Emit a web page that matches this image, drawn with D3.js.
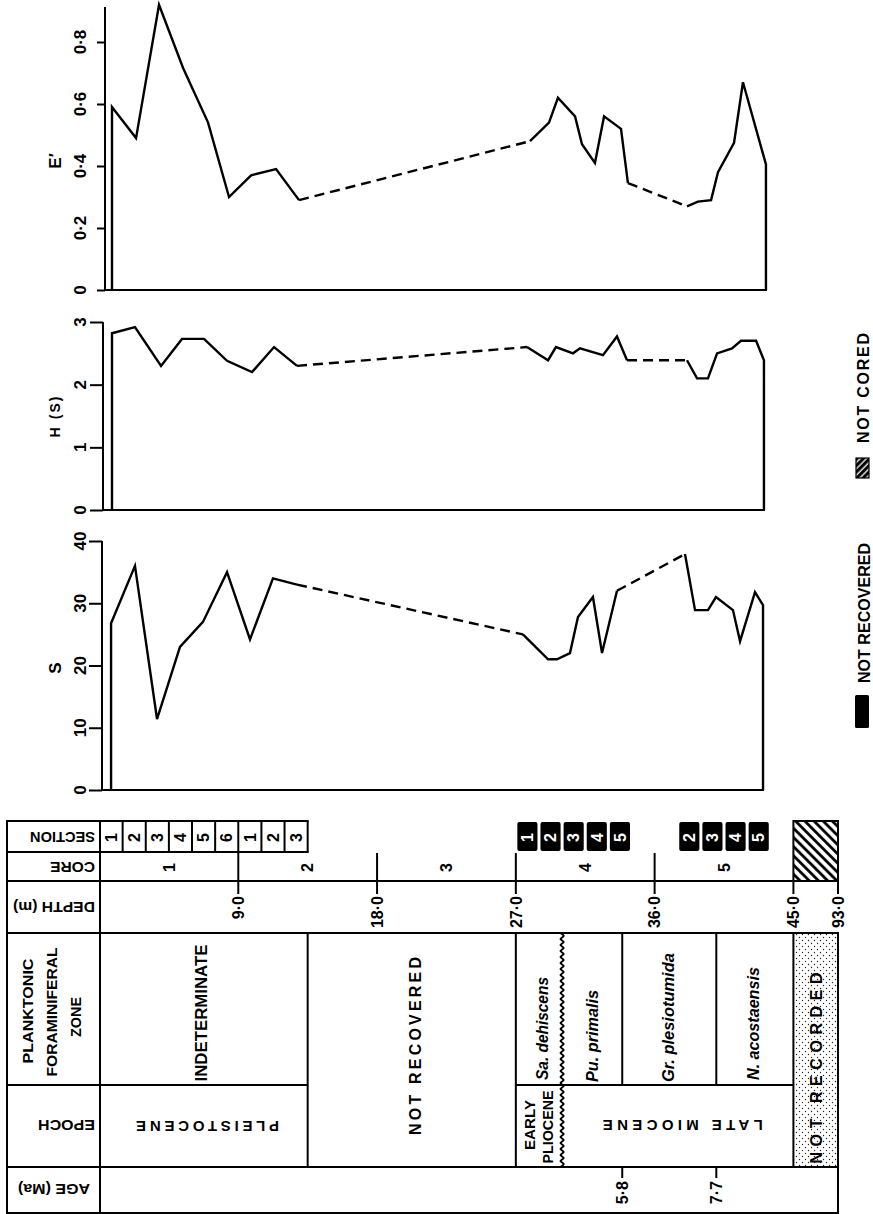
<!DOCTYPE html>
<html><head><meta charset="utf-8">
<script src="https://cdn.jsdelivr.net/npm/d3@7/dist/d3.min.js"></script>
<style>html,body{margin:0;padding:0;background:#fff}svg{display:block}</style>
</head><body>
<svg id="chart" width="873" height="1214"></svg>
<script>
// ================= DATA =================
const eDepth = [0.81,2.37,3.86,5.42,7.04,8.40,9.83,11.45,12.94,27.92,29.15,29.73,30.84,31.29,32.13,32.72,33.82,34.27,38.10,38.81,39.66,40.11,41.15,41.73,43.22];
const eValue = [0.59,0.49,0.92,0.716,0.54,0.30,0.37,0.39,0.29,0.48,0.54,0.62,0.56,0.47,0.41,0.56,0.52,0.345,0.27,0.285,0.29,0.38,0.475,0.67,0.405];
const hDepth = [0.81,2.30,3.99,5.35,6.78,8.27,9.89,11.32,12.81,27.72,29.09,29.60,30.71,31.16,32.65,33.56,34.21,38.10,38.75,39.46,40.05,41.02,41.60,42.58,43.09];
const hValue = [2.82,2.92,2.30,2.73,2.73,2.38,2.20,2.60,2.30,2.60,2.39,2.60,2.50,2.58,2.47,2.77,2.39,2.39,2.10,2.10,2.50,2.58,2.70,2.70,2.39];
const sDepth = [0.75,2.30,3.73,5.22,6.71,8.27,9.76,11.25,12.81,27.46,29.09,29.67,30.51,31.03,32.00,32.59,33.56,37.97,38.62,39.46,39.98,41.08,41.54,42.51,43.03];
const sValue = [26.8,36.0,11.4,23.0,27.0,35.0,24.2,34.0,33.0,25.0,21.0,21.0,22.0,27.8,31.0,22.0,32.0,37.9,28.9,28.9,31.0,28.9,23.9,31.8,29.7];

const eTicks = [0, 0.2, 0.4, 0.6, 0.8];
const hTicks = [0, 1, 2, 3];
const sTicks = [0, 10, 20, 30, 40];

const depthTicks = [9, 18, 27, 36, 45, 93];
const depthTickLabels = ["9·0", "18·0", "27·0", "36·0", "45·0", "93·0"];
const coreBounds = [0, 9, 18, 27, 36, 45];
const coreNames = ["1", "2", "3", "4", "5"];
const sectionLabels = ["1", "2", "3", "4", "5", "6", "1", "2", "3"];
const sectionLength = 1.5;
const notRecCore4 = ["1", "2", "3", "4", "5"];   // core 4 from 27.0 m
const notRecCore5 = ["2", "3", "4", "5"];        // core 5 from 37.5 m
const notCored = [45, 93];

const zoneNames = ["INDETERMINATE", "NOT RECOVERED", "Sa. dehiscens", "Pu. primalis", "Gr. plesiotumida", "N. acostaensis", "NOT RECORDED"];
const zoneFrom = [0, 13.5, 27, 30, 33.9, 40, 45];
const zoneTo = [13.5, 27, 30, 33.9, 40, 45, 93];
const epochNames = ["PLEISTOCENE", "EARLY PLIOCENE", "LATE MIOCENE"];
const epochFrom = [0, 27, 30];
const epochTo = [13.5, 30, 45];
const ageLabels = ["5·8", "7·7"];
const ageDepth = [33.9, 40];

// ================= SETUP =================
const FONT = "'Liberation Sans', Arial, Helvetica, sans-serif";
const svg = d3.select("#chart");
const x = d3.scaleLinear().domain([0, 45, 93]).range([99.5, 793.4, 838]);

const defs = svg.append("defs");
const hatchT = defs.append("pattern").attr("id", "hatchT").attr("patternUnits", "userSpaceOnUse")
  .attr("width", 6.5).attr("height", 6.5).attr("patternTransform", "rotate(-45)");
hatchT.append("rect").attr("width", 6.5).attr("height", 6.5).attr("fill", "#fff");
hatchT.append("line").attr("x1", 1.5).attr("x2", 1.5).attr("y1", 0).attr("y2", 6.5).attr("stroke", "#000").attr("stroke-width", 2.8);
const hatchL = defs.append("pattern").attr("id", "hatchL").attr("patternUnits", "userSpaceOnUse")
  .attr("width", 4.5).attr("height", 4.5).attr("patternTransform", "rotate(45)");
hatchL.append("rect").attr("width", 4.5).attr("height", 4.5).attr("fill", "#000");
hatchL.append("line").attr("x1", 1).attr("x2", 1).attr("y1", 0).attr("y2", 4.5).attr("stroke", "#fff").attr("stroke-width", 1.3);
const dots = defs.append("pattern").attr("id", "dots").attr("patternUnits", "userSpaceOnUse")
  .attr("width", 6).attr("height", 6);
dots.append("circle").attr("cx", 1.5).attr("cy", 1.5).attr("r", 0.7).attr("fill", "#222");
dots.append("circle").attr("cx", 4.5).attr("cy", 4.5).attr("r", 0.7).attr("fill", "#222");

// text helper: rotated label; optional target length fitted by measuring
function label(g, px, py, txt, o = {}) {
  const rot = o.rot === undefined ? -90 : o.rot;
  const anchor = o.anchor || "middle";
  const t = g.append("text")
    .attr("x", 0).attr("y", 0)
    .attr("text-anchor", anchor)
    .attr("dy", "0.36em")
    .attr("fill", o.fill || "#000")
    .style("font-family", FONT)
    .style("font-size", (o.size || 14) + "px")
    .style("font-weight", o.weight || "bold")
    .style("font-style", o.italic ? "italic" : "normal")
    .text(txt);
  let extra = "";
  if (o.len) {
    const w = t.node().getComputedTextLength();
    if (o.adjust === "spacing" && txt.length > 1) {
      const ls = (o.len - w) / (txt.length - 1);
      t.style("letter-spacing", ls + "px");
      // trailing spacing shifts anchored text; compensate
      if (anchor === "middle") t.attr("x", ls / 2);
      else if (anchor === "end") t.attr("x", ls);
    } else if (w > 0) {
      extra = ` scale(${o.len / w},1)`;
    }
  }
  t.attr("transform", `translate(${px},${py}) rotate(${rot})${extra}`);
  return t;
}
function hline(g, x1, x2, y, w = 2) {
  g.append("line").attr("x1", x1).attr("x2", x2).attr("y1", y).attr("y2", y).attr("stroke", "#000").attr("stroke-width", w);
}
function vline(g, xx, y1, y2, w = 2) {
  g.append("line").attr("x1", xx).attr("x2", xx).attr("y1", y1).attr("y2", y2).attr("stroke", "#000").attr("stroke-width", w);
}

// ================= PANELS =================
const panels = [
  { depth: eDepth, value: eValue, ticks: eTicks, y: d3.scaleLinear().domain([0, 0.8]).range([290, 42]), top: 0.913,
    axisX: 105, tick: 8, title: "E′", titleY: 161, titleSize: 17,
    fmt: d => d === 0 ? "0" : d.toFixed(1).replace(".", "·") },
  { depth: hDepth, value: hValue, ticks: hTicks, y: d3.scaleLinear().domain([0, 3]).range([510, 322]), top: 3,
    axisX: 103, tick: 13, title: "H (S)", titleY: 417, titleSize: 14, titleLen: 41, fmt: d3.format("d") },
  { depth: sDepth, value: sValue, ticks: sTicks, y: d3.scaleLinear().domain([0, 40]).range([790, 541]), top: 40,
    axisX: 102, tick: 13, title: "S", titleY: 668, titleSize: 17, fmt: d3.format("d") }
];

panels.forEach(p => {
  const g = svg.append("g");
  const axis = d3.axisLeft(p.y).tickValues(p.ticks).tickSize(p.tick).tickFormat("");
  const ag = g.append("g").attr("transform", `translate(${p.axisX},0)`).call(axis);
  ag.select(".domain").remove();
  ag.selectAll(".tick text").remove();
  ag.selectAll(".tick line").attr("stroke", "#000").attr("stroke-width", 2);
  p.ticks.forEach(v => label(g, 79.5, p.y(v), p.fmt(v), { size: 17 }));
  vline(g, p.axisX, p.y(0) + 1, p.y(p.top));
  const last = p.depth[p.depth.length - 1];
  hline(g, p.axisX, x(last) + 1, p.y(0));
  label(g, 55, p.titleY, p.title, { size: p.titleSize, len: p.titleLen, adjust: "spacing" });

  const runs = [[0]];
  for (let i = 1; i < p.depth.length; i++) {
    if (p.depth[i] - p.depth[i - 1] > 2) runs.push([i]);
    else runs[runs.length - 1].push(i);
  }
  const line = d3.line().x(d => d[0]).y(d => d[1]);
  runs.forEach((r, k) => {
    const pts = r.map(i => [x(p.depth[i]), p.y(p.value[i])]);
    if (k === 0) pts.unshift([x(p.depth[0]), p.y(0)]);
    if (k === runs.length - 1) pts.push([x(last), p.y(0)]);
    g.append("path").attr("d", line(pts)).attr("fill", "none").attr("stroke", "#000")
      .attr("stroke-width", 2.4).attr("stroke-linejoin", "miter");
    if (k > 0) {
      const a = runs[k - 1][runs[k - 1].length - 1], b = r[0];
      g.append("path").attr("d", line([[x(p.depth[a]), p.y(p.value[a])], [x(p.depth[b]), p.y(p.value[b])]]))
        .attr("fill", "none").attr("stroke", "#000").attr("stroke-width", 2.4).attr("stroke-dasharray", "10,6");
    }
  });
});

// ================= TABLE =================
const T = { top: 821, secB: 852, coreB: 881, depthB: 933, zoneB: 1085, epochB: 1167, bottom: 1213, left: 7, head: 100, right: 838 };
const tg = svg.append("g");

tg.append("rect").attr("x", x(notCored[0])).attr("y", T.top).attr("width", x(notCored[1]) - x(notCored[0])).attr("height", T.coreB - T.top)
  .attr("fill", "url(#hatchT)").attr("stroke", "#000").attr("stroke-width", 2);
tg.append("rect").attr("x", x(zoneFrom[6])).attr("y", T.depthB).attr("width", x(zoneTo[6]) - x(zoneFrom[6])).attr("height", T.epochB - T.depthB)
  .attr("fill", "url(#dots)");

const secEnd = x(sectionLabels.length * sectionLength);
vline(tg, T.left, T.top - 1, T.bottom + 1);
vline(tg, T.head, T.top - 1, T.bottom + 1);
hline(tg, T.left, secEnd + 1, T.top);
hline(tg, T.left, secEnd + 1, T.secB);
hline(tg, T.left, T.right + 1, T.coreB);
hline(tg, T.left, T.right + 1, T.depthB);
hline(tg, T.left, x(epochTo[0]), T.zoneB);
hline(tg, x(epochFrom[1]), x(epochTo[2]), T.zoneB);
hline(tg, T.left, T.right + 1, T.epochB);
hline(tg, T.left, T.right + 1, T.bottom);
vline(tg, T.right, T.depthB, T.bottom + 1);

sectionLabels.forEach((s, i) => {
  vline(tg, x((i + 1) * sectionLength), T.top, T.secB);
  label(tg, x((i + 0.5) * sectionLength), (T.top + T.secB) / 2 + 1, s, { size: 16 });
});
function blackBoxes(list, start) {
  list.forEach((s, i) => {
    const a = x(start + i * sectionLength) + 1.5, b = x(start + (i + 1) * sectionLength) - 1.5;
    tg.append("rect").attr("x", a).attr("y", T.top + 1).attr("width", b - a).attr("height", T.secB - T.top - 2)
      .attr("rx", 2).attr("fill", "#000");
    label(tg, (a + b) / 2, (T.top + T.secB) / 2 + 1, s, { size: 16, fill: "#fff" });
  });
}
blackBoxes(notRecCore4, 27);
blackBoxes(notRecCore5, 37.5);

coreNames.forEach((c, i) => {
  label(tg, x((coreBounds[i] + coreBounds[i + 1]) / 2), (T.secB + T.coreB) / 2 + 1, c, { size: 16 });
});
depthTicks.forEach((d, i) => {
  const y1 = d >= 45 ? T.coreB : T.secB + 1;
  vline(tg, x(d), y1, 894);
  label(tg, x(d), 896, depthTickLabels[i], { size: 16, anchor: "end" });
});

vline(tg, x(13.5), T.depthB, T.epochB);
vline(tg, x(27), T.depthB, T.epochB);
vline(tg, x(45), T.depthB, T.epochB);
vline(tg, x(33.9), T.depthB, T.zoneB);
vline(tg, x(40), T.depthB, T.zoneB);
const wave = [];
for (let yy = T.depthB, k = 0; yy <= T.epochB; yy += 3, k++) wave.push([x(30) + (k % 2 ? 1.6 : -1.6), yy]);
tg.append("path").attr("d", d3.line().curve(d3.curveCardinal)(wave)).attr("fill", "none").attr("stroke", "#000").attr("stroke-width", 2);

ageLabels.forEach((a, i) => {
  vline(tg, x(ageDepth[i]), T.epochB, 1178);
  label(tg, x(ageDepth[i]), 1181, a, { size: 16, anchor: "end" });
});

// headers (rotated 180, centred)
label(tg, 62.5, 837, "SECTION", { rot: 180, size: 14, len: 65 });
label(tg, 72.5, 867, "CORE", { rot: 180, size: 14, len: 45 });
label(tg, 54, 907, "DEPTH (m)", { rot: 180, size: 14, len: 82 });
label(tg, 66.5, 1125, "EPOCH", { rot: 180, size: 14, len: 57 });
label(tg, 54, 1189, "AGE (Ma)", { rot: 180, size: 14, len: 72 });
label(tg, 28, 1011, "PLANKTONIC", { size: 14, len: 105 });
label(tg, 52, 1012, "FORAMINIFERAL", { size: 14, len: 129 });
label(tg, 76, 1017, "ZONE", { size: 14, len: 40 });

const zoneStyle = [
  { dx: -3, y: 1013, len: 137, size: 17 },
  { dx: 3, y: 1046, len: 178, adjust: "spacing", size: 16 },
  { dx: 3, y: 1080, len: 103, italic: true, anchor: "start", size: 16 },
  { dx: 0, y: 1082, len: 92, italic: true, anchor: "start", size: 16 },
  { dx: -1, y: 1082, len: 129, italic: true, anchor: "start", size: 16 },
  { dx: -2, y: 1080, len: 113, italic: true, anchor: "start", size: 16 },
  { dx: 1, y: 1068, len: 191, adjust: "spacing", size: 16 }
];
zoneNames.forEach((z, i) => {
  const st = zoneStyle[i];
  label(tg, x((zoneFrom[i] + zoneTo[i]) / 2) + st.dx, st.y, z,
    { size: st.size, len: st.len, italic: st.italic, anchor: st.anchor, adjust: st.adjust });
});
label(tg, x((epochFrom[0] + epochTo[0]) / 2) + 4, 1126, epochNames[0], { rot: 180, size: 15, len: 143, adjust: "spacing" });
const ep = epochNames[1].split(" ");
label(tg, x((epochFrom[1] + epochTo[1]) / 2) - 9, 1125, ep[0], { size: 15, len: 50 });
label(tg, x((epochFrom[1] + epochTo[1]) / 2) + 9, 1127, ep[1], { size: 15, len: 73 });
label(tg, x((epochFrom[2] + epochTo[2]) / 2) + 5, 1125, epochNames[2], { rot: 180, size: 15, len: 160, adjust: "spacing" });

// ================= LEGEND =================
const lg = svg.append("g");
lg.append("rect").attr("x", 856).attr("y", 458).attr("width", 13).attr("height", 20).attr("fill", "url(#hatchL)").attr("stroke", "#000").attr("stroke-width", 1.2);
label(lg, 863, 443, "NOT CORED", { anchor: "start", size: 16, len: 110, adjust: "spacing" });
lg.append("rect").attr("x", 855).attr("y", 695).attr("width", 14).attr("height", 33).attr("rx", 1.5).attr("fill", "#000");
label(lg, 864, 683, "NOT RECOVERED", { anchor: "start", size: 16, len: 140, adjust: "spacing" });
</script>
</body></html>
